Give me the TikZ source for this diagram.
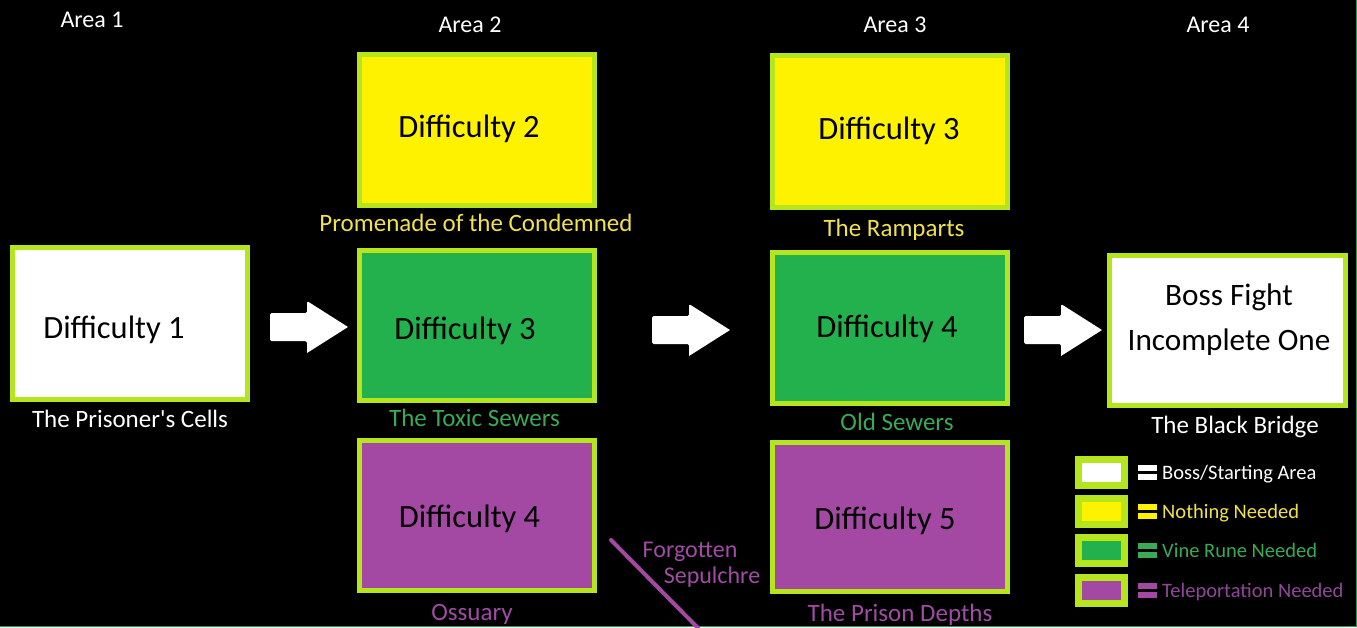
\documentclass[tikz,border=0pt]{standalone}
\usepackage{fontspec}
\setmainfont{Carlito}
\newfontfamily\plaincarlito{Carlito}
\definecolor{lime}{HTML}{B5E61D}
\definecolor{yel}{HTML}{FFF200}
\definecolor{grn}{HTML}{22B14C}
\definecolor{pur}{HTML}{A349A4}
\definecolor{capyel}{HTML}{F0E24C}
\definecolor{capgrn}{HTML}{3AAA55}
\definecolor{cappur}{HTML}{A04CA3}
\definecolor{legpur}{HTML}{8E4896}
\definecolor{edge}{HTML}{2A9D4A}
\tikzset{
  box/.style={draw=lime, line width=5pt, inner sep=0pt, outer sep=0pt,
    minimum width=235pt, minimum height=#1-5pt},
  legbox/.style={draw=lime, line width=7pt, inner sep=0pt, outer sep=0pt,
    minimum width=46pt, minimum height=26pt},
  difftxt/.style={anchor=base, inner sep=0pt, font=\fontsize{32.5}{38}\selectfont, text=black},
  captxt/.style={anchor=base, inner sep=0pt, font=\fontsize{25}{30}\selectfont},
  areatxt/.style={anchor=base, inner sep=0pt, font=\fontsize{24}{29}\selectfont, text=white},
  legtxt/.style={anchor=base west, inner sep=0pt, font=\fontsize{20.5}{24}\selectfont},
  blockarrow/.style={fill=white, rounded corners=1.5pt},
}
\newcommand{\eqbars}[2]{%
  \fill[#2] (1138,#1-7.5) rectangle (1157,#1-1.5);
  \fill[#2] (1138,#1+1.5) rectangle (1157,#1+7.5);}
\begin{document}
\begin{tikzpicture}[x=1pt,y=-1pt]
\fill[black] (0,0) rectangle (1357,627);
\useasboundingbox (0,0) rectangle (1357,627);
\draw[edge, line width=1.5pt] (1356.25,0) -- (1356.25,627);
\draw[edge, line width=1.5pt] (0,626.25) -- (1357,626.25);

% area headings
\node[areatxt] (a1) at (92,27) {Area 1};
\node[areatxt] (a2) at (470,32) {Area 2};
\node[areatxt] (a3) at (895,32) {Area 3};
\node[areatxt] (a4) at (1218,32) {Area 4};

% boxes
\node[box=157pt, fill=white] (b1) at (130,323.5) {};
\node[box=156pt, fill=yel] (b2) at (477,130) {};
\node[box=155pt, fill=grn] (b3) at (477,325.5) {};
\node[box=155pt, fill=pur] (b4) at (477,515.5) {};
\node[box=157pt, fill=yel] (c3) at (890,131.5) {};
\node[box=156pt, fill=grn] (c4) at (890,328) {};
\node[box=154pt, fill=pur] (c5) at (890,517) {};
\node[box=155pt, fill=white, minimum width=236pt] (boss) at (1227.5,330.5) {};

% box texts
\node[difftxt] (t1) at (114,338) {Difficulty 1};
\node[difftxt] (t2) at (469,137) {Difficulty 2};
\node[difftxt] (t3) at (465,339) {Difficulty 3};
\node[difftxt] (t4) at (469.5,527) {Difficulty 4};
\node[difftxt] (u3) at (889,139) {Difficulty 3};
\node[difftxt] (u4) at (887,337) {Difficulty 4};
\node[difftxt] (u5) at (885,529) {Difficulty 5};
\node[difftxt, font=\fontsize{31.2}{36}\selectfont] (bf1) at (1229,305) {Boss Fight};
\node[difftxt, font=\fontsize{31.2}{36}\selectfont] (bf2) at (1229,350) {Incomplete One};

% captions
\node[captxt, text=white] (n1) at (130,427) {\plaincarlito The Prisoner's Cells};
\node[captxt, text=capyel] (n2) at (476,231) {Promenade of the Condemned};
\node[captxt, text=capgrn] (n3) at (474.5,426) {The Toxic Sewers};
\node[captxt, text=cappur] (n4) at (472,620) {Ossuary};
\node[captxt, text=capyel] (m3) at (894,236) {The Ramparts};
\node[captxt, text=capgrn] (m4) at (897,430) {Old Sewers};
\node[captxt, text=cappur] (m5) at (900,621) {The Prison Depths};
\node[captxt, text=white] (mb) at (1235,433) {The Black Bridge};

% forgotten sepulchre
\coordinate (fsA) at (611,540);
\coordinate (fsB) at (698,628);
\draw[pur, line width=4pt, line cap=round] (fsA) -- (fsB);
\node[captxt, text=cappur, font=\fontsize{24}{29}\selectfont] (fs1) at (690,557) {Forgotten};
\node[captxt, text=cappur, font=\fontsize{24}{29}\selectfont] (fs2) at (712,583) {Sepulchre};

% block arrows
\coordinate (ar1) at (270,327);
\coordinate (ar2) at (652,330);
\coordinate (ar3) at (1024,330);
\foreach \c in {ar1,ar2,ar3}{
  \fill[blockarrow] (\c) ++(0,-14) -- ++(37,0) -- ++(0,-12) [sharp corners] -- ++(41,26) -- ++(-41,26) [rounded corners=1.5pt] -- ++(0,-12) -- ++(-37,0) -- cycle;
}

% legend
\node[legbox, fill=white] (l1) at (1101.5,472.5) {};
\node[legbox, fill=yel] (l2) at (1101.5,511.5) {};
\node[legbox, fill=grn] (l3) at (1101.5,550.5) {};
\node[legbox, fill=pur] (l4) at (1101.5,590.5) {};
\eqbars{472.5}{white}
\eqbars{511.5}{yel}
\eqbars{550.5}{capgrn}
\eqbars{590.5}{pur}
\node[legtxt, text=white] (lt1) at (1162,479) {Boss/Starting Area};
\node[legtxt, text=capyel] (lt2) at (1162,518) {Nothing Needed};
\node[legtxt, text=capgrn] (lt3) at (1162,557) {Vine Rune Needed};
\node[legtxt, text=legpur] (lt4) at (1162,597) {Teleportation Needed};
\end{tikzpicture}
\end{document}
